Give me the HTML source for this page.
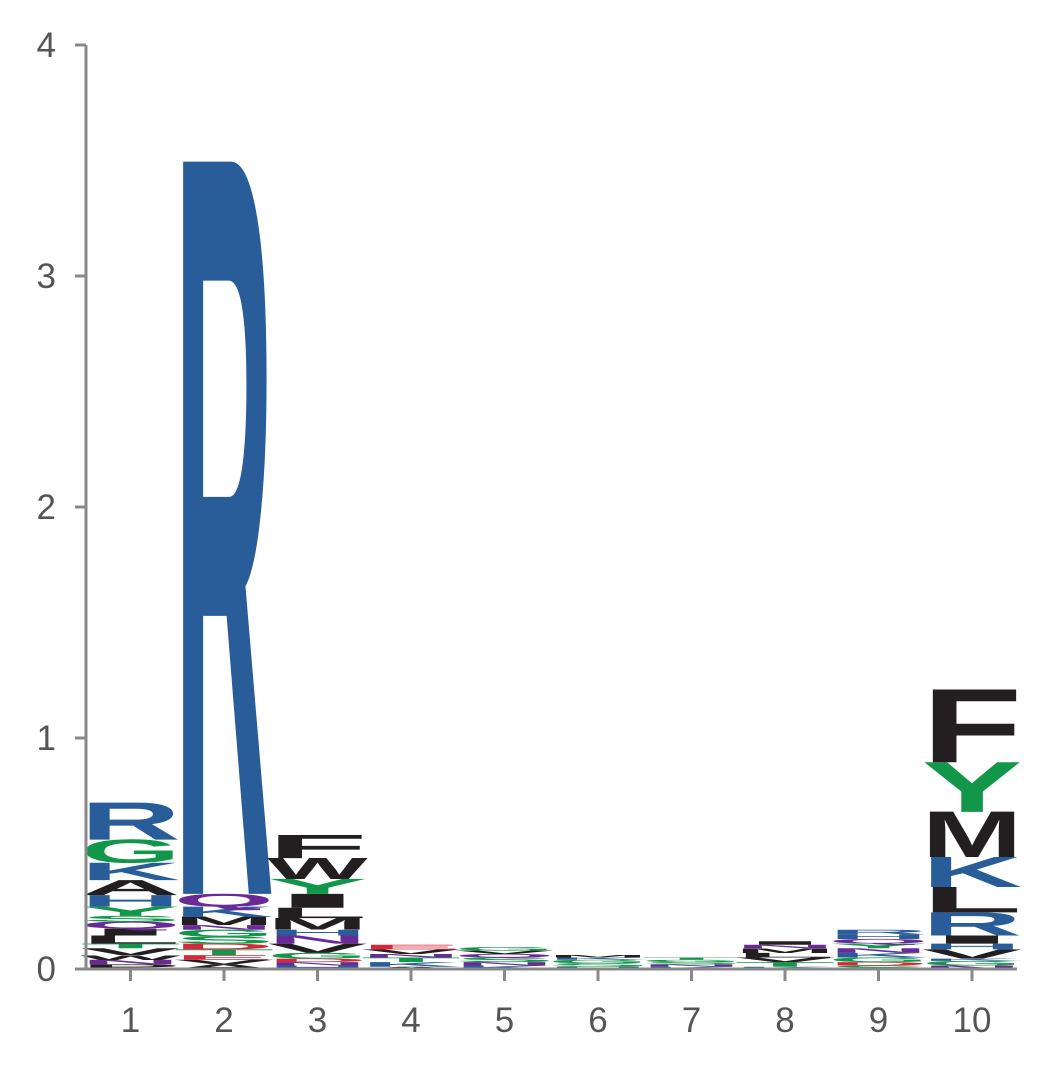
<!DOCTYPE html>
<html><head><meta charset="utf-8"><style>
body{margin:0;background:#fff;}
svg{display:block;font-family:"Liberation Sans",sans-serif;}
</style></head><body>
<svg id="logo" width="1045" height="1071" viewBox="0 0 1045 1071"></svg>
<script>
const positions=[1,2,3,4,5,6,7,8,9,10];
const yTicks=[0,1,2,3,4];
// letters bottom->top with heights (bits) per position
const col1=[["P",0.02],["N",0.02],["W",0.02],["V",0.03],["T",0.02],["L",0.035],["I",0.03],["Q",0.03],["S",0.025],["Y",0.04],["H",0.05],["A",0.065],["K",0.075],["G",0.1],["R",0.16]];
const col2=[["A",0.02],["V",0.02],["E",0.02],["T",0.025],["D",0.025],["S",0.03],["G",0.03],["N",0.02],["M",0.035],["K",0.045],["Q",0.055],["R",3.17]];
const col3=[["H",0.015],["N",0.015],["D",0.015],["G",0.025],["V",0.04],["N",0.035],["H",0.025],["M",0.05],["L",0.045],["I",0.06],["Y",0.065],["W",0.09],["F",0.1]];
const col4=[["A",0.01],["K",0.02],["T",0.02],["N",0.015],["V",0.02],["E",0.02]];
const col5=[["K",0.015],["N",0.015],["S",0.02],["Q",0.015],["V",0.015],["G",0.015]];
const col6=[["H",0.01],["S",0.015],["G",0.015],["K",0.01],["M",0.01]];
const col7=[["K",0.01],["N",0.01],["S",0.01],["G",0.01],["T",0.01]];
const col8=[["K",0.01],["T",0.02],["V",0.02],["L",0.02],["M",0.02],["N",0.015],["I",0.015]];
const col9=[["S",0.015],["D",0.015],["G",0.02],["K",0.02],["N",0.02],["Y",0.02],["Q",0.02],["H",0.02],["R",0.02]];
const col10=[["N",0.015],["G",0.02],["K",0.01],["V",0.04],["H",0.025],["I",0.035],["R",0.1],["L",0.11],["K",0.13],["M",0.195],["Y",0.215],["F",0.315]];
const columns=[col1,col2,col3,col4,col5,col6,col7,col8,col9,col10];

const colors={R:"#285d99",K:"#285d99",H:"#285d99",G:"#12974a",Y:"#12974a",S:"#12974a",T:"#12974a",C:"#12974a",Q:"#6a2a95",N:"#6a2a95",D:"#d6283a",E:"#d6283a"};
const NS="http://www.w3.org/2000/svg";
const svg=document.getElementById('logo');
const x0=86,yBase=969,pxPerBit=231,step=93.5,colW=88,capH=68.8;
const xc=i=>130.5+(i-1)*step;
const yv=v=>yBase-v*pxPerBit;
function mk(t,a){const e=document.createElementNS(NS,t);for(const k in a)e.setAttribute(k,a[k]);svg.appendChild(e);return e;}

columns.forEach((col,ci)=>{
  let acc=0;
  col.forEach(([ch,h])=>{
    const yb=yv(acc),hp=h*pxPerBit;
    const tl=colW*1.14;
    const t=mk('text',{x:0,y:0,'font-size':100,'font-weight':'bold',fill:colors[ch]||'#231f20',
      textLength:tl,lengthAdjust:'spacingAndGlyphs',
      transform:`translate(${xc(positions[ci])-tl/2},${yb}) scale(1,${hp/capH})`});
    t.textContent=ch;
    
    
    acc+=h;
  });
});

const ax=mk('line',{x1:x0,y1:45,x2:x0,y2:yBase,stroke:'#888',"stroke-width":3});


const bx=mk('line',{x1:x0,y1:yBase,x2:1017,y2:yBase,stroke:'#888',"stroke-width":3});


yTicks.forEach(v=>{
  const tk=mk('line',{x1:75,y1:yv(v),x2:x0,y2:yv(v),stroke:'#888',"stroke-width":3});
  
  
  const l=mk('text',{x:56,y:yv(v)+12,'font-size':35,fill:'#555','text-anchor':'end'});
  l.textContent=v;
  
  
});
positions.forEach(p=>{
  const tk=mk('line',{x1:xc(p),y1:yBase,x2:xc(p),y2:yBase+12,stroke:'#888',"stroke-width":3});
  
  
  const l=mk('text',{x:xc(p),y:1032,'font-size':35,fill:'#555','text-anchor':'middle'});
  l.textContent=p;
  
  
});
</script>
</body></html>
